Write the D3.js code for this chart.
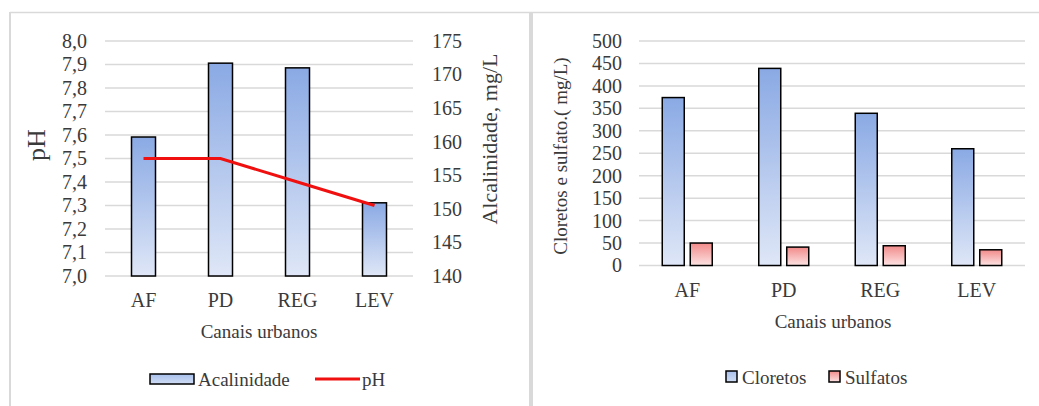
<!DOCTYPE html>
<html>
<head>
<meta charset="utf-8">
<script src="https://cdn.jsdelivr.net/npm/d3@7"></script>
<style>
  html, body { margin: 0; padding: 0; background: #fff; }
  svg { display: block; }
</style>
</head>
<body>
<svg id="chart" width="1039" height="406" font-family="Liberation Serif"></svg>
<script>
// ---- Data ----
const categories = ["AF", "PD", "REG", "LEV"];
const alcalinidade = [160.7, 171.7, 171.0, 150.9];
const pH = [7.5, 7.5, 7.4, 7.3];
const cloretos = [374, 439, 339, 260];
const sulfatos = [50, 41, 44, 35];
const phTicks = [7.0, 7.1, 7.2, 7.3, 7.4, 7.5, 7.6, 7.7, 7.8, 7.9, 8.0];
const alcTicks = [140, 145, 150, 155, 160, 165, 170, 175];
const ionTicks = [0, 50, 100, 150, 200, 250, 300, 350, 400, 450, 500];

const FONT = "'Liberation Serif', 'Times New Roman', serif";
const TXT = "#3a3a3a";

const svg = d3.select("#chart");
svg.append("rect").attr("width", 1039).attr("height", 406).attr("fill", "#fff");

// gradients
const defs = svg.append("defs");
function grad(id, top, bottom) {
  const g = defs.append("linearGradient").attr("id", id)
    .attr("x1", 0).attr("y1", 0).attr("x2", 0).attr("y2", 1);
  g.append("stop").attr("offset", "0%").attr("stop-color", top);
  g.append("stop").attr("offset", "100%").attr("stop-color", bottom);
}
grad("gBlue", "#8aa9e4", "#dfe7f7");
grad("gRed", "#f28a8a", "#fde3e3");
grad("gBlueLeg", "#a9c0ec", "#cfdcf4");

// panel frames
svg.append("line").attr("x1", 10).attr("x2", 1039).attr("y1", 12.5).attr("y2", 12.5)
  .attr("stroke", "#d9d9d9").attr("stroke-width", 1.5);
svg.append("line").attr("x1", 10).attr("x2", 10).attr("y1", 12).attr("y2", 406)
  .attr("stroke", "#d9d9d9").attr("stroke-width", 2);
svg.append("line").attr("x1", 531).attr("x2", 531).attr("y1", 12).attr("y2", 406)
  .attr("stroke", "#d9d9d9").attr("stroke-width", 4);

const comma = v => d3.format(".1f")(v).replace(".", ",");

// ================= LEFT CHART =================
const L = { x0: 105, x1: 413, yTop: 41, yBot: 276 };
const xL = d3.scaleBand().domain(categories).range([L.x0, L.x1]);
const yPH = d3.scaleLinear().domain([7, 8]).range([L.yBot, L.yTop]);
const yAlc = d3.scaleLinear().domain([140, 175]).range([L.yBot, L.yTop]);

const left = svg.append("g");
left.selectAll("line.grid").data(phTicks).join("line")
  .attr("x1", L.x0).attr("x2", L.x1)
  .attr("y1", d => yPH(d)).attr("y2", d => yPH(d))
  .attr("stroke", "#d9d9d9").attr("stroke-width", 1.5);

const axL = left.append("g").attr("transform", `translate(${L.x0 - 18},0)`)
  .call(d3.axisLeft(yPH).tickValues(phTicks).tickFormat(comma).tickSize(0).tickPadding(0));
axL.select(".domain").remove();
axL.attr("font-family", null).attr("font-size", null);
axL.selectAll("text").style("font-size", "20px");

const axR = left.append("g").attr("transform", `translate(${L.x1 + 19},0)`)
  .call(d3.axisRight(yAlc).tickValues(alcTicks).tickSize(0).tickPadding(0));
axR.select(".domain").remove();
axR.attr("font-family", null).attr("font-size", null);
axR.selectAll("text").style("font-size", "20px");

const barWL = 24;
left.selectAll("rect.bar").data(categories).join("rect")
  .attr("x", d => xL(d) + (xL.bandwidth() - barWL) / 2)
  .attr("y", (d, i) => yAlc(alcalinidade[i]))
  .attr("width", barWL)
  .attr("height", (d, i) => yAlc(140) - yAlc(alcalinidade[i]))
  .attr("fill", "url(#gBlue)").attr("stroke", "#000").attr("stroke-width", 1.5);

const line = d3.line().x((d, i) => xL(categories[i]) + xL.bandwidth() / 2).y(d => yPH(d));
left.append("path").datum(pH).attr("d", line)
  .attr("fill", "none").attr("stroke", "#f01010").attr("stroke-width", 3);

left.selectAll("text.xl").data(categories).join("text")
  .attr("x", d => xL(d) + xL.bandwidth() / 2).attr("y", 307)
  .attr("text-anchor", "middle").style("font-size", "20px").text(d => d);

left.append("text").attr("x", 259).attr("y", 338).attr("text-anchor", "middle")
  .style("font-size", "19px").text("Canais urbanos");

left.append("text").attr("transform", "translate(45,145) rotate(-90)")
  .attr("text-anchor", "middle").style("font-size", "26px").text("pH");
left.append("text").attr("transform", "translate(497,139) rotate(-90)")
  .attr("text-anchor", "middle").style("font-size", "22px").text("Alcalinidade, mg/L");

left.append("rect").attr("x", 150).attr("y", 374).attr("width", 44).attr("height", 10)
  .attr("fill", "url(#gBlueLeg)").attr("stroke", "#000").attr("stroke-width", 1.5);
left.append("text").attr("x", 198).attr("y", 386).style("font-size", "19px").text("Acalinidade");
left.append("line").attr("x1", 315).attr("x2", 360).attr("y1", 379).attr("y2", 379)
  .attr("stroke", "#f01010").attr("stroke-width", 3);
left.append("text").attr("x", 362).attr("y", 386).style("font-size", "19px").text("pH");

// ================= RIGHT CHART =================
const R = { x0: 639, x1: 1025, yTop: 41, yBot: 265.5 };
const xR = d3.scaleBand().domain(categories).range([R.x0, R.x1]);
const yI = d3.scaleLinear().domain([0, 500]).range([R.yBot, R.yTop]);
const groupW = 50;
const xSub = d3.scaleBand().domain(["Cloretos", "Sulfatos"]).range([0, groupW]).paddingInner(0.214);

const right = svg.append("g");
right.selectAll("line.grid").data(ionTicks).join("line")
  .attr("x1", R.x0).attr("x2", R.x1)
  .attr("y1", d => yI(d)).attr("y2", d => yI(d))
  .attr("stroke", "#d9d9d9").attr("stroke-width", 1.5);

const axI = right.append("g").attr("transform", `translate(${R.x0 - 17},0)`)
  .call(d3.axisLeft(yI).tickValues(ionTicks).tickSize(0).tickPadding(0));
axI.select(".domain").remove();
axI.attr("font-family", null).attr("font-size", null);
axI.selectAll("text").style("font-size", "20px");

const series = [
  { key: "Cloretos", values: cloretos, fill: "url(#gBlue)" },
  { key: "Sulfatos", values: sulfatos, fill: "url(#gRed)" }
];
series.forEach(s => {
  right.selectAll(null).data(categories).join("rect")
    .attr("x", d => xR(d) + (xR.bandwidth() - groupW) / 2 + xSub(s.key))
    .attr("y", (d, i) => yI(s.values[i]))
    .attr("width", xSub.bandwidth())
    .attr("height", (d, i) => yI(0) - yI(s.values[i]))
    .attr("fill", s.fill).attr("stroke", "#000").attr("stroke-width", 1.5);
});

right.selectAll("text.xl").data(categories).join("text")
  .attr("x", d => xR(d) + xR.bandwidth() / 2).attr("y", 297)
  .attr("text-anchor", "middle").style("font-size", "20px").text(d => d);

right.append("text").attr("x", 833).attr("y", 328).attr("text-anchor", "middle")
  .style("font-size", "19px").text("Canais urbanos");

right.append("text").attr("transform", "translate(567,156) rotate(-90)")
  .attr("text-anchor", "middle").style("font-size", "19px").text("Cloretos e sulfato.( mg/L)");

right.append("rect").attr("x", 726).attr("y", 371).attr("width", 11).attr("height", 11)
  .attr("fill", "url(#gBlueLeg)").attr("stroke", "#000").attr("stroke-width", 1.5);
right.append("text").attr("x", 742).attr("y", 384).style("font-size", "19px").text("Cloretos");
right.append("rect").attr("x", 829).attr("y", 371).attr("width", 11).attr("height", 11)
  .attr("fill", "url(#gRed)").attr("stroke", "#000").attr("stroke-width", 1.5);
right.append("text").attr("x", 845).attr("y", 384).style("font-size", "19px").text("Sulfatos");

// apply font to every text
svg.selectAll("text").style("font-family", FONT).attr("fill", TXT);
</script>
</body>
</html>
